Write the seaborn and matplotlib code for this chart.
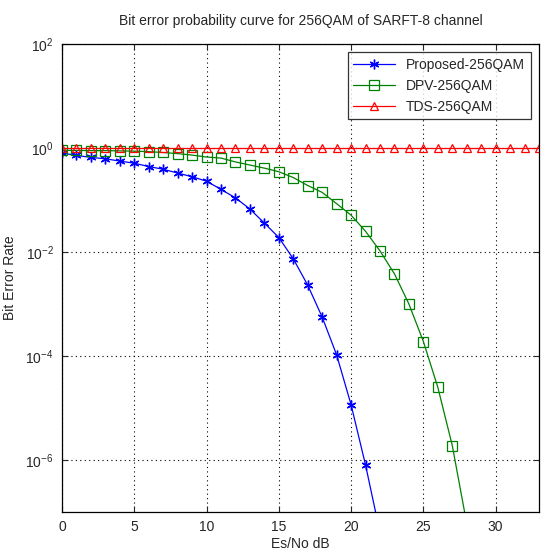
import matplotlib
matplotlib.use("Agg")
import matplotlib.pyplot as plt
import seaborn as sns
import pandas as pd
from matplotlib.ticker import NullLocator, LogFormatterSciNotation

# Es/No (dB) grid for each curve
snr_prop = list(range(0, 23))
snr_dpv = list(range(0, 29))
snr_tds = list(range(0, 34))

# Bit error rates
ber_prop = [0.80, 0.72, 0.66, 0.62, 0.56, 0.51, 0.44, 0.39, 0.33, 0.28,
            0.23, 0.16, 0.11, 0.067, 0.036, 0.019, 0.0074, 0.0023, 5.6e-4,
            1.05e-4, 1.15e-5, 8e-7, 4e-8]
ber_dpv = [0.90, 0.90, 0.89, 0.89, 0.88, 0.87, 0.85, 0.82, 0.78, 0.73,
           0.67, 0.64, 0.54, 0.47, 0.41, 0.35, 0.27, 0.19, 0.14, 0.085,
           0.051, 0.025, 0.0105, 0.0038, 1.0e-3, 1.9e-4, 2.5e-5, 1.9e-6, 6e-8]
ber_tds = [1.0, 1.0, 1.0, 1.0, 1.0, 1.0, 1.0, 1.0, 1.0, 1.0,
           1.0, 1.0, 1.0, 1.0, 1.0, 1.0, 1.0, 1.0, 1.0, 1.0,
           1.0, 1.0, 1.0, 1.0, 1.0, 1.0, 1.0, 1.0, 1.0, 1.0,
           1.0, 1.0, 1.0, 1.0]

labels = ["Proposed-256QAM", "DPV-256QAM", "TDS-256QAM"]
xticks = [0, 5, 10, 15, 20, 25, 30]
yticks = [1e-6, 1e-4, 1e-2, 1e0, 1e2]

df_prop = pd.DataFrame({"snr": snr_prop, "ber": ber_prop})
df_dpv = pd.DataFrame({"snr": snr_dpv, "ber": ber_dpv})
df_tds = pd.DataFrame({"snr": snr_tds, "ber": ber_tds})

sns.set_style("ticks")
plt.rcParams["font.family"] = ["Liberation Sans", "DejaVu Sans"]

fig, ax = plt.subplots(figsize=(5.41, 5.57), dpi=100)
fig.subplots_adjust(left=62 / 541, right=539 / 541, bottom=1 - 512 / 557, top=1 - 44 / 557)

# Curves, MATLAB-like colours and markers
sns.lineplot(data=df_prop, x="snr", y="ber", ax=ax, color=(0, 0, 1), lw=0.9,
             marker=(6, 2, 0), markersize=7, markeredgecolor=(0, 0, 1),
             markeredgewidth=1.0, label=labels[0])
sns.lineplot(data=df_dpv, x="snr", y="ber", ax=ax, color=(0, 0.5, 0), lw=0.9,
             marker="s", markersize=6.5, markerfacecolor="none",
             markeredgecolor=(0, 0.5, 0), markeredgewidth=0.9, label=labels[1])
sns.lineplot(data=df_tds, x="snr", y="ber", ax=ax, color=(1, 0, 0), lw=0.9,
             marker="^", markersize=5.5, markerfacecolor="none",
             markeredgecolor=(1, 0, 0), markeredgewidth=0.9, label=labels[2])

# Axis formatting
ax.set_yscale("log")
ax.set_xlim(0, 33)
ax.set_ylim(1e-7, 1e2)
ax.set_xticks(xticks)
ax.set_yticks(yticks)
ax.yaxis.set_major_formatter(LogFormatterSciNotation())
ax.yaxis.set_minor_locator(NullLocator())
ax.tick_params(direction="in", top=True, right=True, labelsize=10, length=4,
               width=0.8, pad=6)
ax.grid(True, linestyle=(0, (1, 3)), color="black", linewidth=0.8)
for s in ax.spines.values():
    s.set_color("black")
    s.set_linewidth(0.9)

ax.set_xlabel("Es/No dB", fontsize=10, labelpad=2)
ax.set_ylabel("Bit Error Rate", fontsize=10, labelpad=6)
ax.set_title("Bit error probability curve for 256QAM of SARFT-8 channel",
             fontsize=10, pad=14)

leg = ax.legend(loc="upper right", fontsize=10, frameon=True, fancybox=False,
                edgecolor="black", handlelength=3, borderaxespad=0.6,
                labelspacing=0.5)
leg.get_frame().set_linewidth(0.9)

fig.savefig("out.png", dpi=100)
